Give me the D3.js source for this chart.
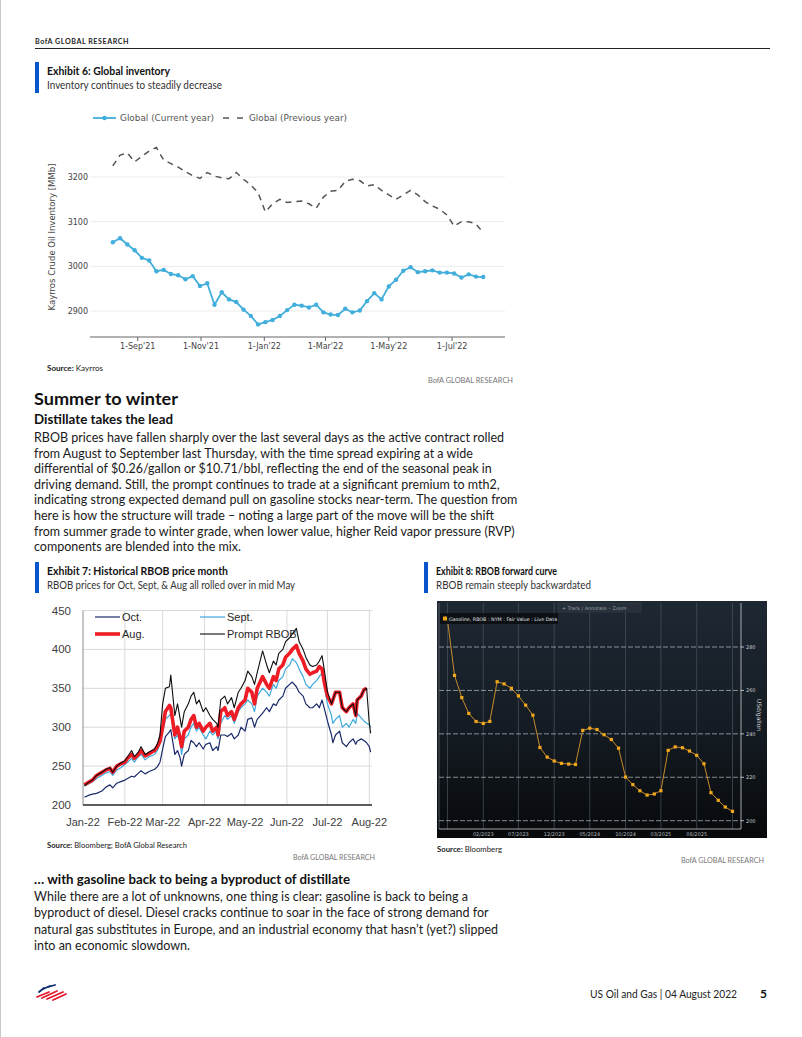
<!DOCTYPE html>
<html><head><meta charset="utf-8"><title>BofA Global Research p5</title>
<script src="https://cdn.jsdelivr.net/npm/d3@7/dist/d3.min.js"></script>
<style>html,body{margin:0;padding:0;background:#fff;} svg{display:block;}</style>
</head><body>
<svg id="page" width="802" height="1037" xmlns="http://www.w3.org/2000/svg"></svg>
<script>
// ================= DATA =================
// Exhibit 6: Global inventory (weekly, MMb)
const invStart = "2021-08-08";
const invCurrent = [3054,3063,3049,3036,3019,3013,2989,2992,2983,2980,2971,2978,2956,2962,2914,2942,2926,2920,2903,2889,2870,2875,2880,2889,2902,2914,2912,2908,2914,2897,2892,2891,2905,2897,2901,2922,2940,2926,2955,2970,2990,2998,2987,2989,2991,2986,2986,2984,2975,2982,2977,2976];
const invPrevious = [3225,3249,3254,3234,3246,3258,3266,3238,3230,3222,3212,3203,3197,3210,3202,3198,3196,3210,3195,3182,3165,3122,3140,3150,3143,3145,3146,3140,3130,3155,3168,3170,3190,3195,3192,3180,3183,3170,3160,3150,3160,3170,3160,3145,3135,3128,3115,3090,3100,3100,3095,3075];
const invYTicks = [2900, 3000, 3100, 3200];
const invXTicks = ["2021-09-01","2021-11-01","2022-01-01","2022-03-01","2022-05-01","2022-07-01"];
const invXTickLabels = ["1-Sep'21","1-Nov'21","1-Jan'22","1-Mar'22","1-May'22","1-Jul'22"];
const invSeriesNames = ["Global (Current year)", "Global (Previous year)"];

// Exhibit 7: Historical RBOB price month (c/gal)
const rbobDates = ["2022-01-02","2022-01-06","2022-01-08","2022-01-11","2022-01-15","2022-01-18","2022-01-21","2022-01-23","2022-01-26","2022-01-29",
"2022-02-01","2022-02-03","2022-02-06","2022-02-08","2022-02-11","2022-02-13","2022-02-16","2022-02-19","2022-02-23","2022-02-25","2022-02-27",
"2022-03-01","2022-03-03","2022-03-06","2022-03-07","2022-03-10","2022-03-12","2022-03-14","2022-03-15","2022-03-17","2022-03-20","2022-03-22","2022-03-24","2022-03-26","2022-03-28","2022-03-31",
"2022-04-02","2022-04-05","2022-04-07","2022-04-10","2022-04-11","2022-04-13","2022-04-16","2022-04-18","2022-04-21","2022-04-23","2022-04-26","2022-04-28",
"2022-05-01","2022-05-03","2022-05-06","2022-05-08","2022-05-10","2022-05-14","2022-05-17","2022-05-19","2022-05-22","2022-05-24","2022-05-26","2022-05-29","2022-05-31",
"2022-06-03","2022-06-05","2022-06-08","2022-06-10","2022-06-13","2022-06-15","2022-06-18","2022-06-20","2022-06-23","2022-06-25","2022-06-27","2022-06-29",
"2022-07-01","2022-07-04","2022-07-05","2022-07-07","2022-07-10","2022-07-12","2022-07-15","2022-07-17","2022-07-20","2022-07-22","2022-07-23","2022-07-26","2022-07-28","2022-07-30",
"2022-08-01","2022-08-02"];
const rbobOct = [210,213,214,215,218,223,226,222,228,230,
232,234,237,236,241,244,240,243,246,249,255,
272,288,294,297,265,270,260,250,265,270,283,280,275,280,272,
278,280,270,275,270,290,290,288,292,285,290,300,
295,310,312,300,310,318,325,320,330,328,335,340,350,
355,358,352,345,340,330,325,325,330,325,335,322,
308,290,280,290,295,280,275,280,285,278,282,285,283,280,
275,268];
const rbobSept = [224,228,230,234,238,241,243,238,245,248,
252,255,260,255,262,265,258,262,265,270,278,
295,310,315,318,285,290,280,265,285,290,300,305,295,300,290,
285,295,290,295,285,305,315,310,315,305,320,325,
330,335,330,320,340,350,345,340,355,350,360,365,375,
380,388,383,375,365,355,350,355,360,365,370,350,
330,315,305,310,315,300,305,300,310,305,318,312,308,305,
303,300];
const rbobAug = [226,230,232,238,242,245,247,242,250,253,
255,260,265,260,265,270,263,266,270,275,282,
300,320,328,325,290,300,285,275,295,300,310,315,300,305,295,
300,305,295,300,290,320,325,315,320,310,325,330,
335,350,345,330,350,365,355,350,365,360,375,380,390,
395,400,405,395,385,375,368,370,372,378,375,355,
340,330,335,345,345,325,320,325,330,315,335,340,348,350,
null,null];
const rbobPrompt = [225,230,232,238,242,246,248,242,250,254,
257,262,270,262,268,275,265,268,272,278,290,
330,350,352,367,315,330,310,300,320,330,340,345,330,335,320,
325,315,310,305,300,335,340,330,338,325,345,350,
360,372,365,355,370,398,380,370,385,380,395,400,410,
415,420,427,410,400,390,380,378,380,385,392,370,
345,330,335,345,345,325,320,325,330,315,335,340,348,350,
305,292];
const rbobYTicks = [200, 250, 300, 350, 400, 450];
const rbobMonths = ["2022-01-01","2022-02-01","2022-03-01","2022-04-01","2022-05-01","2022-06-01","2022-07-01","2022-08-01"];
const rbobMonthLabels = ["Jan-22","Feb-22","Mar-22","Apr-22","May-22","Jun-22","Jul-22","Aug-22"];
const rbobNames = ["Oct.","Sept.","Aug.","Prompt RBOB"];

// Exhibit 8: RBOB forward curve (USd/gallon), monthly contracts from Sep 2022
const fwdStart = "2022-09-01";
const fwdValues = [292.5,266.9,256.7,249.4,245.7,244.8,245.7,264.0,263.0,261.0,257.5,253.2,248.6,233.7,229.3,227.5,226.4,226.1,225.9,241.6,242.6,242.0,239.6,237.4,233.4,220.1,216.6,213.8,211.8,212.3,213.8,232.4,234.0,233.6,232.1,230.1,226.2,212.9,209.4,206.3,204.3];
const fwdYTicks = [200, 220, 240, 260, 280];
const fwdXTicks = ["2022-09-01","2023-02-01","2023-07-01","2023-12-01","2024-05-01","2024-10-01","2025-03-01","2025-08-01","2026-01-01"];
const fwdXTickLabels = ["","02/2023","07/2023","12/2023","05/2024","10/2024","03/2025","08/2025",""];
const fwdLegend = "Gasoline, RBOB : NYM : Fair Value : Live Data";

// Text
const para1 = [
"RBOB prices have fallen sharply over the last several days as the active contract rolled",
"from August to September last Thursday, with the time spread expiring at a wide",
"differential of $0.26/gallon or $10.71/bbl, reflecting the end of the seasonal peak in",
"driving demand. Still, the prompt continues to trade at a significant premium to mth2,",
"indicating strong expected demand pull on gasoline stocks near-term. The question from",
"here is how the structure will trade \u2013 noting a large part of the move will be the shift",
"from summer grade to winter grade, when lower value, higher Reid vapor pressure (RVP)",
"components are blended into the mix."];
const para2 = [
"While there are a lot of unknowns, one thing is clear: gasoline is back to being a",
"byproduct of diesel. Diesel cracks continue to soar in the face of strong demand for",
"natural gas substitutes in Europe, and an industrial economy that hasn\u2019t (yet?) slipped",
"into an economic slowdown."];

// ================= RENDER =================
const parse = d3.timeParse("%Y-%m-%d");
const svg = d3.select("#page");
const F = "Lato, 'Noto Sans', 'DejaVu Sans', sans-serif";
const BLUE = "#0a55cc";

function fit(sel, w) {
  const n = sel.node().getComputedTextLength();
  if (Math.abs(n - w) > 1) sel.attr("textLength", w).attr("lengthAdjust", "spacingAndGlyphs");
  return sel;
}
function text(x, y, s, o = {}) {
  const t = svg.append("text").attr("x", x).attr("y", y)
    .attr("font-family", o.family || F).attr("font-size", o.size || 12)
    .attr("font-weight", o.weight || 400).attr("fill", o.fill || "#1a1a1a")
    .attr("text-anchor", o.anchor || "start").text(s);
  if (o.ls) t.attr("letter-spacing", o.ls);
  if (o.w) fit(t, o.w);
  return t;
}
function sourceLine(x, y, rest, w) {
  const t = svg.append("text").attr("x", x).attr("y", y).attr("font-family", F)
    .attr("font-size", 7.5).attr("fill", "#222");
  t.append("tspan").attr("font-weight", 700).text("Source:");
  t.append("tspan").text("  " + rest);
  fit(t, w);
}
function exhibitTitle(x, y, title, sub, wt, ws) {
  svg.append("rect").attr("x", x - 12).attr("y", y - 13).attr("width", 4).attr("height", 31).attr("fill", BLUE);
  text(x, y, title, {size: 11.5, weight: 700, w: wt, fill: "#111"});
  text(x, y + 14, sub, {size: 11.5, w: ws, fill: "#333"});
}

// page edge + header
svg.append("rect").attr("x", 0).attr("y", 0).attr("width", 1).attr("height", 1037).attr("fill", "#c8c8c8");
text(35, 44, "BofA GLOBAL RESEARCH", {size: 7.5, weight: 700, ls: 0.6, w: 94, fill: "#222"});
svg.append("line").attr("x1", 35).attr("x2", 770).attr("y1", 48.5).attr("y2", 48.5).attr("stroke", "#222").attr("stroke-width", 1);

// ---------- Exhibit 6 ----------
exhibitTitle(47, 75, "Exhibit 6: Global inventory", "Inventory continues to steadily decrease", 123, 175);
{
  const PF = "'DejaVu Sans', Verdana, sans-serif";
  const x = d3.scaleTime().domain([new Date(2021, 6, 17), new Date(2022, 7, 21)]).range([90, 505]);
  const y = d3.scaleLinear().domain([2900, 3200]).range([311, 177]);
  const start = parse(invStart);
  const cur = invCurrent.map((v, i) => ({date: d3.timeDay.offset(start, 7 * i), v}));
  const prev = invPrevious.map((v, i) => ({date: d3.timeDay.offset(start, 7 * i), v}));
  const g = svg.append("g");
  g.selectAll(".grid").data(invYTicks).join("line")
    .attr("x1", 90).attr("x2", 505).attr("y1", d => y(d)).attr("y2", d => y(d))
    .attr("stroke", "#ececec").attr("stroke-width", 1);
  g.selectAll(".yl").data(invYTicks).join("text")
    .attr("x", 88).attr("y", d => y(d) + 3).attr("text-anchor", "end")
    .attr("font-family", PF).attr("font-size", 8).attr("fill", "#444").text(d => d);
  const yt = g.append("text").attr("transform", "translate(55,237) rotate(-90)").attr("text-anchor", "middle")
    .attr("font-family", PF).attr("font-size", 8.5).attr("fill", "#444").text("Kayrros Crude Oil Inventory [MMb]");
  fit(yt, 146);
  // x axis
  g.append("line").attr("x1", 90).attr("x2", 505).attr("y1", 337).attr("y2", 337).attr("stroke", "#666").attr("stroke-width", 1.2);
  const xt = invXTicks.map(parse);
  g.selectAll(".xt").data(xt).join("line").attr("x1", d => x(d)).attr("x2", d => x(d))
    .attr("y1", 337).attr("y2", 341).attr("stroke", "#666");
  g.selectAll(".xl").data(xt).join("text").attr("x", d => x(d)).attr("y", 349).attr("text-anchor", "middle")
    .attr("font-family", PF).attr("font-size", 8).attr("fill", "#444").text((d, i) => invXTickLabels[i]);
  const line = d3.line().x(d => x(d.date)).y(d => y(d.v));
  g.append("path").datum(prev).attr("d", line).attr("fill", "none").attr("stroke", "#555")
    .attr("stroke-width", 1.5).attr("stroke-dasharray", "6,5");
  g.append("path").datum(cur).attr("d", line).attr("fill", "none").attr("stroke", "#41aedb").attr("stroke-width", 1.8);
  g.selectAll(".pt").data(cur).join("circle").attr("cx", d => x(d.date)).attr("cy", d => y(d.v))
    .attr("r", 2.2).attr("fill", "#41aedb");
  // legend
  g.append("line").attr("x1", 93).attr("x2", 116).attr("y1", 118).attr("y2", 118).attr("stroke", "#41aedb").attr("stroke-width", 1.8);
  g.append("circle").attr("cx", 104.5).attr("cy", 118).attr("r", 2.2).attr("fill", "#41aedb");
  const l1 = g.append("text").attr("x", 120).attr("y", 121).attr("font-family", PF).attr("font-size", 8)
    .attr("fill", "#555").text(invSeriesNames[0]);
  fit(l1, 94);
  g.append("line").attr("x1", 223).attr("x2", 244).attr("y1", 118).attr("y2", 118).attr("stroke", "#555")
    .attr("stroke-width", 1.5).attr("stroke-dasharray", "6,8");
  const l2 = g.append("text").attr("x", 249).attr("y", 121).attr("font-family", PF).attr("font-size", 8)
    .attr("fill", "#555").text(invSeriesNames[1]);
  fit(l2, 98);
}
sourceLine(47, 371, "Kayrros", 56);
text(513, 383, "BofA GLOBAL RESEARCH", {size: 7.5, anchor: "end", fill: "#777", w: 85});

// ---------- Text section ----------
text(34, 405, "Summer to winter", {size: 17.5, weight: 700, w: 144, fill: "#111"});
text(34, 424, "Distillate takes the lead", {size: 12.5, weight: 700, w: 139, fill: "#111"});
function paragraph(lines, x, y0, lh, firstW) {
  const ts = lines.map((s, i) => text(x, y0 + i * lh, s, {size: 12.5, fill: "#1a1a1a"}));
  const k = firstW / ts[0].node().getComputedTextLength();
  ts.forEach(t => { const n = t.node().getComputedTextLength(); t.attr("textLength", n * k).attr("lengthAdjust", "spacingAndGlyphs"); });
  return k;
}
const kBody = paragraph(para1, 34, 442, 15.6, 470);

// ---------- Exhibit 7 ----------
exhibitTitle(47, 575, "Exhibit 7: Historical RBOB  price month", "RBOB prices for Oct, Sept, & Aug all rolled  over in mid May", 181, 248);
{
  const LF = "'Liberation Sans', Arial, sans-serif";
  const x = d3.scaleTime().domain([new Date(2022, 0, 1), new Date(2022, 7, 3)]).range([83, 372]);
  const y = d3.scaleLinear().domain([200, 450]).range([805, 610.5]);
  const g = svg.append("g");
  const months = rbobMonths.map(parse);
  g.selectAll(".hg").data(rbobYTicks.slice(1)).join("line")
    .attr("x1", 83).attr("x2", 372).attr("y1", d => y(d)).attr("y2", d => y(d)).attr("stroke", "#d9d9d9");
  g.selectAll(".vg").data(months.slice(1)).join("line")
    .attr("x1", d => x(d)).attr("x2", d => x(d)).attr("y1", y(450)).attr("y2", 805).attr("stroke", "#d9d9d9");
  g.append("line").attr("x1", 83).attr("x2", 83).attr("y1", y(450)).attr("y2", 805).attr("stroke", "#8c8c8c");
  g.selectAll(".yl").data(rbobYTicks).join("text").attr("x", 71).attr("y", d => y(d) + 4)
    .attr("text-anchor", "end").attr("font-family", LF).attr("font-size", 11.5).attr("fill", "#404040").text(d => d);
  g.selectAll(".xl").data(months).join("text").attr("x", d => x(d)).attr("y", 826)
    .attr("text-anchor", "middle").attr("font-family", LF).attr("font-size", 11).attr("fill", "#404040")
    .text((d, i) => rbobMonthLabels[i]);
  const rows = rbobDates.map(parse);
  const mk = arr => arr.map((v, i) => ({date: rows[i], v}));
  const line = d3.line().x(d => x(d.date)).y(d => y(d.v)).defined(d => d.v != null);
  const series = [
    {data: rbobOct, color: "#1b2a6b", w: 1.2},
    {data: rbobSept, color: "#3fa9dd", w: 1.2},
    {data: rbobAug, color: "#ee1c25", w: 3.6},
    {data: rbobPrompt, color: "#0d0d0d", w: 1.1}];
  series.forEach(s => g.append("path").datum(mk(s.data)).attr("d", line).attr("fill", "none")
    .attr("stroke", s.color).attr("stroke-width", s.w).attr("stroke-linejoin", "round"));
  g.append("line").attr("x1", 83).attr("x2", 372).attr("y1", 805).attr("y2", 805).attr("stroke", "#262626").attr("stroke-width", 1.5);
  // legend
  const leg = [[95, 617, 0], [200, 617, 1], [95, 634, 2], [200, 634, 3]];
  leg.forEach(([lx, ly, i]) => {
    g.append("line").attr("x1", lx).attr("x2", lx + 25).attr("y1", ly).attr("y2", ly)
      .attr("stroke", series[i].color).attr("stroke-width", series[i].w);
    g.append("text").attr("x", lx + 27).attr("y", ly + 4).attr("font-family", LF).attr("font-size", 11)
      .attr("fill", "#262626").text(rbobNames[i]);
  });
}
sourceLine(47, 848, "Bloomberg; BofA Global Research", 140);
text(375, 860, "BofA GLOBAL RESEARCH", {size: 7.5, anchor: "end", fill: "#777", w: 82});

// ---------- Exhibit 8 ----------
exhibitTitle(436, 575, "Exhibit 8: RBOB forward curve", "RBOB remain steeply backwardated", 121, 155);
{
  const BF = "'DejaVu Sans', sans-serif";
  const defs = svg.append("defs");
  const gr = defs.append("linearGradient").attr("id", "bbg").attr("x1", 0).attr("x2", 0).attr("y1", 0).attr("y2", 1);
  gr.append("stop").attr("offset", "0%").attr("stop-color", "#1e2833");
  gr.append("stop").attr("offset", "55%").attr("stop-color", "#141b22");
  gr.append("stop").attr("offset", "100%").attr("stop-color", "#07090b");
  const g = svg.append("g");
  g.append("rect").attr("x", 437).attr("y", 601).attr("width", 330).attr("height", 237).attr("fill", "url(#bbg)");
  const x = d3.scaleTime().domain([parse("2022-09-01"), parse("2026-01-01")]).range([447.5, 732.5]);
  const y = d3.scaleLinear().domain([200, 280]).range([820.7, 647]);
  const xt = fwdXTicks.map(parse);
  g.selectAll(".vg").data(xt).join("line").attr("x1", d => x(d)).attr("x2", d => x(d))
    .attr("y1", 603).attr("y2", 829).attr("stroke", "#4a535d").attr("stroke-width", 0.7);
  g.selectAll(".hg").data(fwdYTicks).join("line").attr("x1", 439).attr("x2", 741)
    .attr("y1", d => y(d)).attr("y2", d => y(d)).attr("stroke", "#b9bec4").attr("stroke-width", 0.7)
    .attr("stroke-dasharray", "5,2");
  g.append("line").attr("x1", 439).attr("x2", 439).attr("y1", 603).attr("y2", 829).attr("stroke", "#6b7279").attr("stroke-width", 0.7);
  g.append("line").attr("x1", 741).attr("x2", 741).attr("y1", 603).attr("y2", 829).attr("stroke", "#c9cdd1").attr("stroke-width", 0.8);
  g.append("line").attr("x1", 439).attr("x2", 741).attr("y1", 829).attr("y2", 829).attr("stroke", "#c9cdd1").attr("stroke-width", 0.8);
  g.selectAll(".yt").data(fwdYTicks).join("line").attr("x1", 741).attr("x2", 744)
    .attr("y1", d => y(d)).attr("y2", d => y(d)).attr("stroke", "#ddd").attr("stroke-width", 0.8);
  g.selectAll(".yl").data(fwdYTicks).join("text").attr("x", 746).attr("y", d => y(d) + 1.8)
    .attr("font-family", BF).attr("font-size", 5).attr("fill", "#c8ccd0").text(d => d);
  g.append("text").attr("transform", "translate(757,715) rotate(90)").attr("text-anchor", "middle")
    .attr("font-family", BF).attr("font-size", 6).attr("fill", "#c8ccd0").text("USd/gallon");
  g.selectAll(".xl").data(xt).join("text").attr("x", d => x(d)).attr("y", 836).attr("text-anchor", "middle")
    .attr("font-family", BF).attr("font-size", 5).attr("fill", "#b0b5ba").text((d, i) => fwdXTickLabels[i]);
  const s0 = parse(fwdStart);
  const pts = fwdValues.map((v, i) => ({date: d3.timeMonth.offset(s0, i), v}));
  const line = d3.line().x(d => x(d.date)).y(d => y(d.v));
  g.append("path").datum(pts).attr("d", line).attr("fill", "none").attr("stroke", "#d9962c").attr("stroke-width", 0.9);
  g.selectAll(".pt").data(pts).join("rect").attr("x", d => x(d.date) - 1.6).attr("y", d => y(d.v) - 1.6)
    .attr("width", 3.2).attr("height", 3.2).attr("fill", "#f2a81d");
  // legend box
  g.append("rect").attr("x", 440).attr("y", 613).attr("width", 118).attr("height", 11).attr("fill", "#0c1014").attr("opacity", 0.9);
  g.append("rect").attr("x", 443).attr("y", 616.5).attr("width", 4).attr("height", 4).attr("fill", "#f2a81d");
  g.append("text").attr("x", 449).attr("y", 621).attr("font-family", BF).attr("font-size", 4.8)
    .attr("fill", "#e2e4e6").text(fwdLegend);
  // toolbar
  g.append("rect").attr("x", 558).attr("y", 603).attr("width", 83).attr("height", 9).attr("fill", "#27303a").attr("stroke", "#3a434d").attr("stroke-width", 0.5);
  g.append("text").attr("x", 562).attr("y", 609.5).attr("font-family", BF).attr("font-size", 4.8)
    .attr("fill", "#9aa1a8").text("+ Track    \u2215 Annotate    \u25e6 Zoom");
}
sourceLine(437, 852, "Bloomberg", 65);
text(764, 863, "BofA GLOBAL RESEARCH", {size: 7.5, anchor: "end", fill: "#777", w: 83});

// ---------- Second text section ----------
text(34, 884, "\u2026 with gasoline back to being a byproduct of distillate", {size: 12.5, weight: 700, w: 316, fill: "#111"});
{
  const ts = para2.map((s, i) => text(34, 901 + i * 16.4, s, {size: 12.5, fill: "#1a1a1a"}));
  ts.forEach(t => { const n = t.node().getComputedTextLength(); t.attr("textLength", n * kBody).attr("lengthAdjust", "spacingAndGlyphs"); });
}

// ---------- Footer ----------
{
  const g = svg.append("g").attr("transform", "translate(35,985)");
  const blue = "#0b2a6e", red = "#e0182d";
  const stripes = [
    [4, 7, 9, 3, blue], [8, 4, 15, 1, blue], [13, 2, 20, 0, blue],
    [2, 12, 14, 7, red], [7, 13, 22, 6, red], [12, 14, 28, 7, red], [18, 15, 31, 9, red]];
  stripes.forEach(([x1, y1, x2, y2, c]) => g.append("line").attr("x1", x1).attr("y1", y1)
    .attr("x2", x2).attr("y2", y2).attr("stroke", c).attr("stroke-width", 1.8).attr("stroke-linecap", "round"));
}
text(737, 998, "US Oil and Gas | 04 August 2022", {size: 11.5, anchor: "end", w: 147, fill: "#222"});
text(760, 998, "5", {size: 12, weight: 700, fill: "#111"});
</script>
</body></html>
